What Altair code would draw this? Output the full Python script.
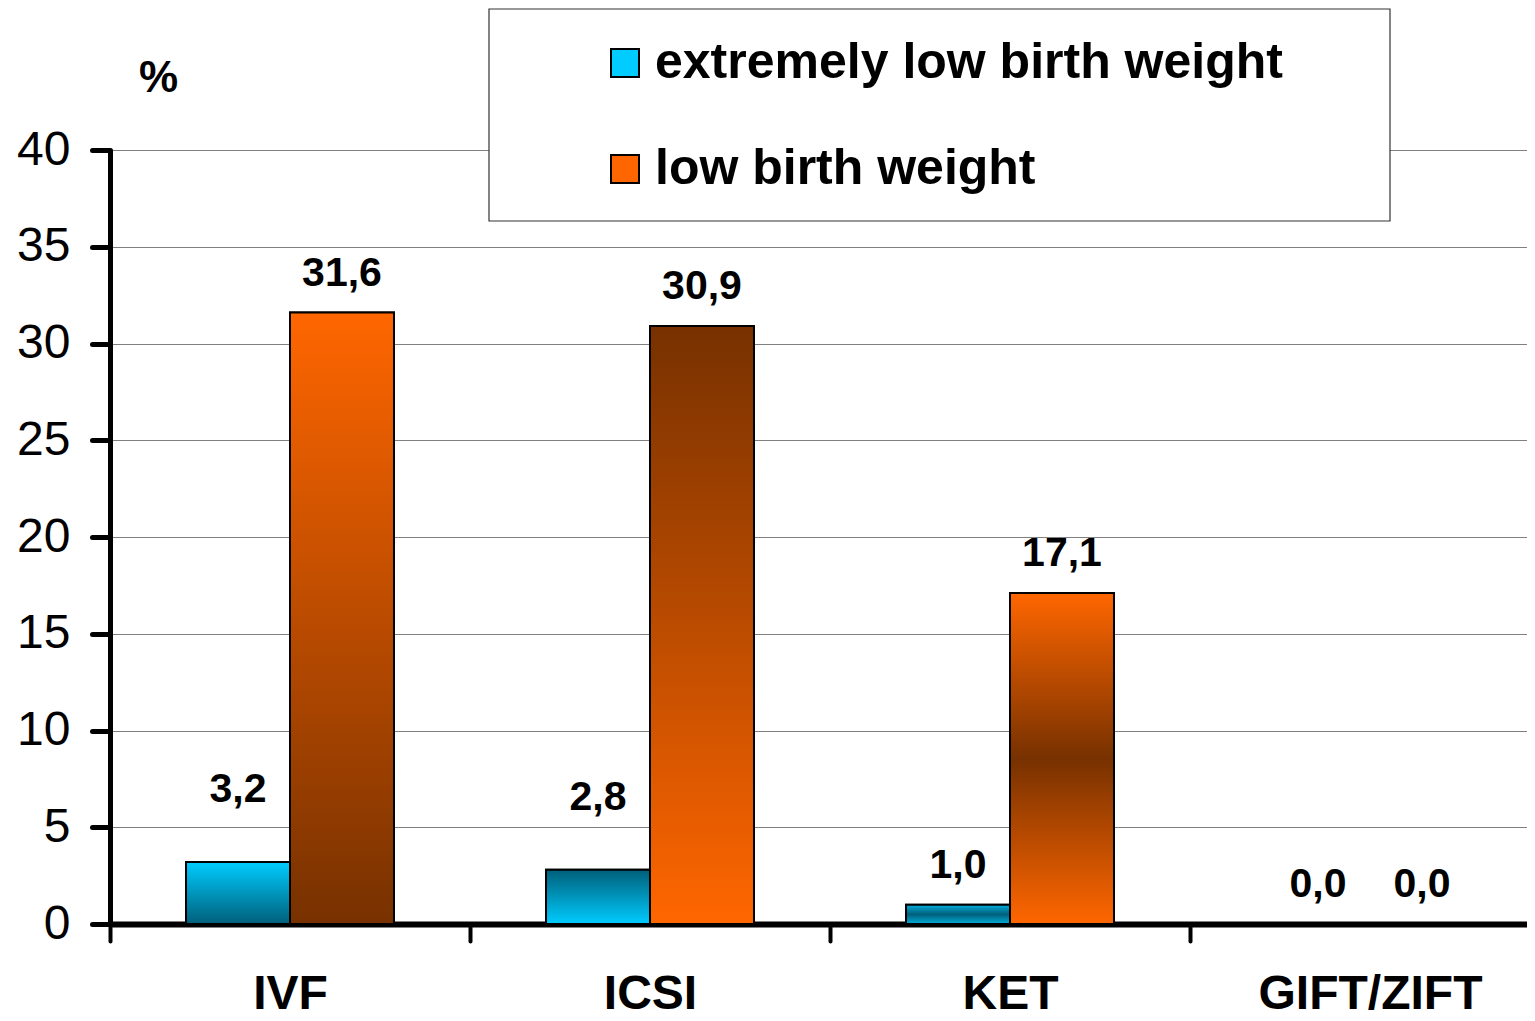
import altair as alt
import pandas as pd

categories = ["IVF", "ICSI", "KET", "GIFT/ZIFT"]
series = ["extremely low birth weight", "low birth weight"]
elbw = [3.2, 2.8, 1.0, 0.0]
lbw = [31.6, 30.9, 17.1, 0.0]
y_ticks = [0, 5, 10, 15, 20, 25, 30, 35, 40]

rows = []
for c, a, b in zip(categories, elbw, lbw):
    rows.append({"method": c, "series": series[0], "value": a, "label": f"{a:.1f}".replace(".", ",")})
    rows.append({"method": c, "series": series[1], "value": b, "label": f"{b:.1f}".replace(".", ",")})
df = pd.DataFrame(rows)

FONT = "Liberation Sans"
BLUE, DBLUE = "#00CCFF", "#005F7A"
ORANGE, BROWN = "#FF6600", "#773100"


def grad(stops):
    return alt.Gradient(
        gradient="linear",
        stops=[alt.GradientStop(color=c, offset=o) for o, c in stops],
        x1=0, x2=0, y1=0, y2=1,
    )


x_enc = alt.X(
    "method:N",
    sort=categories,
    scale=alt.Scale(domain=categories, range=[0, 1440], paddingInner=0, paddingOuter=0),
    axis=alt.Axis(
        title=None, labelAngle=0, tickBand="extent", labelLimit=400,
        labelFont=FONT, labelFontWeight="bold", labelFontSize=48, labelColor="black",
        labelPadding=29, tickSize=17, tickWidth=4, tickColor="black", tickCap="round",
        domainWidth=6, domainColor="black", grid=False,
    ),
)
xo_enc = alt.XOffset(
    "series:N", sort=series,
    scale=alt.Scale(domain=series, paddingInner=0, paddingOuter=0.731),
)
y_enc = alt.Y(
    "value:Q",
    scale=alt.Scale(domain=[0, 40], nice=False),
    axis=alt.Axis(
        values=y_ticks, title="%", titleAngle=0, titleX=48, titleY=-72,
        titleAlign="center", titleBaseline="middle",
        titleFont=FONT, titleFontSize=44, titleFontWeight="bold", titleColor="black",
        labelFont=FONT, labelFontSize=48, labelColor="black", labelPadding=22,
        tickSize=18, tickWidth=5, tickColor="black", tickCap="round",
        domainWidth=5, domainColor="black",
        gridColor="#808080", gridWidth=1.2,
    ),
)

base = alt.Chart(df).encode(x=x_enc, xOffset=xo_enc, y=y_enc)

legend_box = alt.Chart(pd.DataFrame({"k": [0]})).mark_rect(
    fill="white", stroke="#333333", strokeWidth=1.2
).encode(
    x=alt.value(379), x2=alt.value(1280), y=alt.value(-141), y2=alt.value(71)
)

solid = base.mark_bar(stroke="black", strokeWidth=2).encode(
    color=alt.Color(
        "series:N",
        scale=alt.Scale(domain=series, range=[BLUE, ORANGE]),
        legend=alt.Legend(
            orient="none", legendX=490, legendY=-112, title=None,
            symbolType="square", symbolSize=784, symbolStrokeColor="black",
            symbolStrokeWidth=2, symbolOpacity=1,
            labelFont=FONT, labelFontSize=50, labelFontWeight="bold", labelColor="black",
            labelOffset=5, labelLimit=1200, rowPadding=56, padding=0,
        ),
    )
)

grads = {
    ("IVF", series[0]): grad([(0, BLUE), (1, DBLUE)]),
    ("IVF", series[1]): grad([(0, ORANGE), (1, BROWN)]),
    ("ICSI", series[0]): grad([(0, DBLUE), (1, BLUE)]),
    ("ICSI", series[1]): grad([(0, BROWN), (1, ORANGE)]),
    ("KET", series[0]): grad([(0, "#00AEDD"), (0.5, DBLUE), (1, "#00AEDD")]),
    ("KET", series[1]): grad([(0, ORANGE), (0.5, BROWN), (1, ORANGE)]),
}

layers = [legend_box, solid]
for (m, s), g in grads.items():
    layers.append(
        base.transform_filter((alt.datum.method == m) & (alt.datum.series == s))
        .mark_bar(fill=g, stroke="black", strokeWidth=2)
    )

text_style = dict(font=FONT, fontSize=41, fontWeight="bold", color="black",
                  align="center", baseline="alphabetic")
raised = (alt.datum.series == series[0]) & (alt.datum.value > 2)
labels_normal = base.transform_filter(~raised).mark_text(dy=-27, **text_style).encode(
    text="label:N"
)
labels_raised = base.transform_filter(raised).mark_text(dy=-60, **text_style).encode(
    text="label:N"
)
layers += [labels_normal, labels_raised]

chart = (
    alt.layer(*layers)
    .properties(
        width=1417, height=774,
        autosize=alt.AutoSizeParams(type="none"),
        padding={"left": 102, "top": 142, "right": 0, "bottom": 89},
        background="white",
    )
    .configure_view(strokeWidth=0)
)

chart.save("out.html", embed_options={"renderer": "svg", "actions": False})
